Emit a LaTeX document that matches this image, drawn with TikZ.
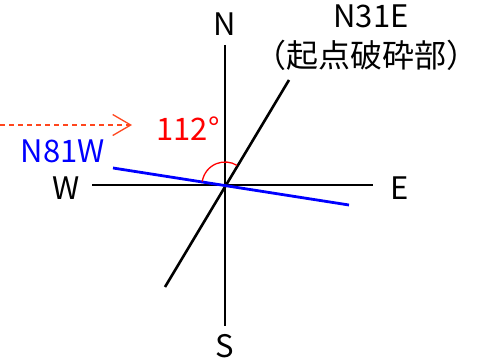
\documentclass[tikz,border=0pt]{standalone}
\usepackage{fontspec}
\setmainfont{Noto Sans CJK JP}
\usetikzlibrary{arrows.meta}
\definecolor{arrred}{RGB}{255,70,30}
\begin{document}
\begin{tikzpicture}[x=1pt,y=-1pt,
  axis/.style={line width=2.6pt,black},
  lbl/.style={inner sep=0pt,anchor=base,font=\fontsize{31pt}{33pt}\selectfont},
  cjk/.style={inner sep=0pt,anchor=base,font=\fontsize{32pt}{34pt}\selectfont}]
\useasboundingbox (0,0) rectangle (486,361);
\coordinate (O) at (225,185);
\coordinate (Nt) at (225,45);
\coordinate (Sb) at (225,326);
\coordinate (Wl) at (92,185);
\coordinate (Er) at (373,185);
\coordinate (Dne) at (289,80);
\coordinate (Dsw) at (165,287);
\coordinate (Bw) at (113,168);
\coordinate (Be) at (349,205);
\coordinate (Astart) at (0,125);
\coordinate (Aend) at (132,125);
\draw[axis] (Nt) -- (Sb);
\draw[axis] (Wl) -- (Er);
\draw[axis] (Dsw) -- (Dne);
\draw[line width=2.8pt,blue] (Bw) -- (Be);
\draw[red,line width=1.3pt] (O) ++(-171.4:23) arc[start angle=-171.4,end angle=-58.6,radius=23];
\draw[arrred,line width=1.3pt,dash pattern=on 5pt off 4pt,-{Straight Barb[length=18pt,width=21pt]}] (Astart) -- (Aend);
\node[lbl] (N) at (225,36) {N};
\node[lbl] (S) at (225,357) {S};
\node[lbl] (W) at (66,199) {W};
\node[lbl] (E) at (400,199) {E};
\node[lbl] (n31e) at (371,28) {N31E};
\node[cjk] (kiten) at (366,67) {（起点破砕部）};
\node[lbl,blue] (n81w) at (63,162) {N81W};
\node[lbl,red] (ang) at (188,140) {112°};
\end{tikzpicture}
\end{document}
